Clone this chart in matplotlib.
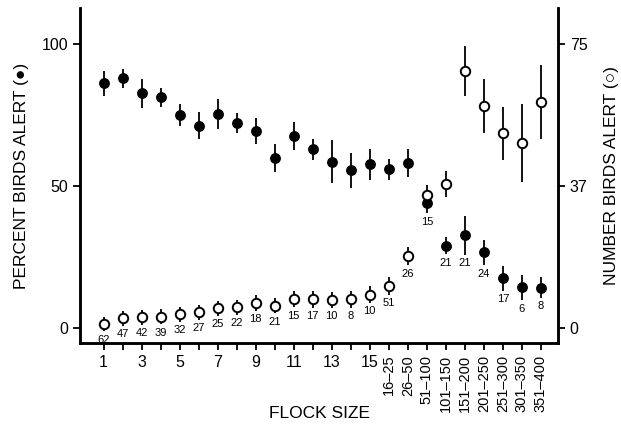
"""Alertness of birds against flock size: percent alert and number alert."""

import numpy as np
import matplotlib
matplotlib.use('Agg')
import matplotlib.pyplot as plt

plt.rcParams['font.family'] = ['Liberation Sans', 'DejaVu Sans']

flock_sizes = ['1', '2', '3', '4', '5', '6', '7', '8', '9', '10', '11', '12',
               '13', '14', '15', '16–25', '26–50', '51–100', '101–150',
               '151–200', '201–250', '251–300', '301–350', '351–400']

# percent of birds alert (filled dots, left axis)
pct_alert = [86.2, 87.9, 82.6, 81.2, 75.0, 71.2, 75.4, 72.3, 69.4, 59.8,
             67.7, 62.9, 58.6, 55.6, 57.6, 55.9, 58.2, 44.1, 29.0, 32.7,
             26.6, 17.5, 14.3, 14.2]
pct_err = [4.5, 3.4, 5.0, 3.5, 4.0, 4.8, 5.4, 3.5, 4.5, 5.0, 4.9, 3.7,
           7.6, 6.2, 5.6, 3.8, 5.0, 3.7, 3.1, 6.9, 4.5, 4.3, 4.5, 3.6]

# number of birds alert (open circles, right axis)
num_alert = [1.0, 2.6, 2.8, 3.0, 3.6, 4.1, 5.2, 5.5, 6.6, 5.9, 7.7, 7.6,
             7.4, 7.6, 8.8, 11.1, 19.0, 35.1, 38.0, 67.9, 58.6, 51.4,
             48.9, 59.6]
num_err = [1.9, 2.0, 2.0, 2.0, 1.9, 2.0, 2.0, 2.0, 2.1, 2.0, 2.2, 2.2,
           2.1, 2.2, 2.2, 2.3, 2.4, 2.6, 3.5, 6.5, 7.1, 6.9, 10.4, 9.8]

# number of flocks observed
n_flocks = [62, 47, 42, 39, 32, 27, 25, 22, 18, 21, 15, 17, 10, 8, 10,
            51, 26, 15, 21, 21, 24, 17, 6, 8]

scale = 0.75  # right axis units per left axis unit
x = np.arange(1, len(flock_sizes) + 1)

fig = plt.figure(figsize=(6.21, 4.24), dpi=100)
ax = fig.add_axes([0.129, 0.191, 0.7696, 0.790])
ax2 = ax.twinx()

ax.errorbar(x, pct_alert, yerr=pct_err, fmt='o', color='black',
            markersize=6.8, elinewidth=1.3, capsize=0, zorder=3)
ax2.errorbar(x, num_alert, yerr=num_err, fmt='o', color='black',
             markerfacecolor='white', markeredgewidth=1.4, markersize=6.8,
             elinewidth=1.3, capsize=0, zorder=3)

ylim = (-5.3, 112.7)
ax.set_ylim(ylim)
ax2.set_ylim(ylim[0] * scale, ylim[1] * scale)
ax.set_xlim(-0.23, 24.9)

# sample sizes go under whichever point sits lower
for xi, p, pe, q, qe, n in zip(x, pct_alert, pct_err, num_alert, num_err,
                               n_flocks):
    if q / scale < p:
        ax2.annotate(str(n), (xi, q - qe), xytext=(0, -2.5),
                     textcoords='offset points', ha='center', va='top',
                     fontsize=8)
    else:
        ax.annotate(str(n), (xi, p - pe), xytext=(0, -2.5),
                    textcoords='offset points', ha='center', va='top',
                    fontsize=8)

ax.set_yticks([0, 50, 100])
ax.set_yticklabels(['0', '50', '100'], fontsize=11.5)
ax2.set_yticks([0, 37.5, 75])
ax2.set_yticklabels(['0', '37', '75'], fontsize=11.5)

labels = [s if (i < 15 and i % 2 == 0) or i >= 15 else ''
          for i, s in enumerate(flock_sizes)]
ax.set_xticks(x)
ax.set_xticklabels(labels, fontsize=11.5)
for lab in ax.get_xticklabels()[15:]:
    lab.set_rotation(90)
    lab.set_fontsize(10.5)

for a in (ax, ax2):
    a.spines['top'].set_visible(False)
    for s in ('left', 'right', 'bottom'):
        a.spines[s].set_linewidth(1.8)
    a.tick_params(width=1.3, length=5)

ax.set_ylabel('PERCENT BIRDS ALERT (●)', fontsize=12.5, labelpad=9)
ax2.set_ylabel('NUMBER BIRDS ALERT (○)', fontsize=12.5, labelpad=12)
ax.text(0.5, -0.209, 'FLOCK SIZE', transform=ax.transAxes, fontsize=12.5,
        ha='center', va='center')

fig.savefig('out.png', dpi=100)
